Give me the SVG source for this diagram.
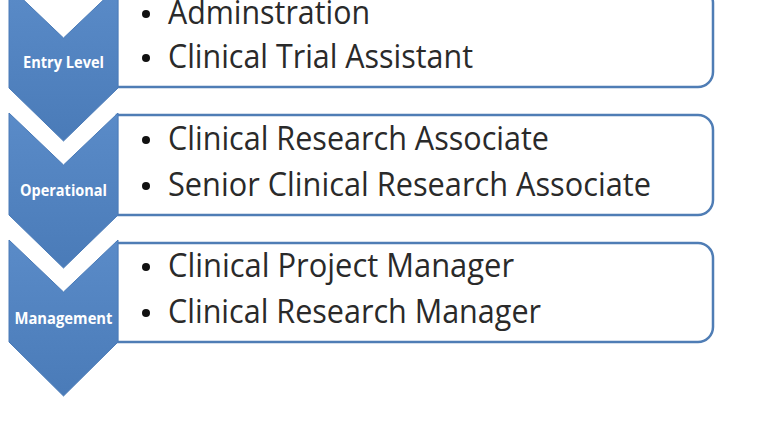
<svg xmlns="http://www.w3.org/2000/svg" width="780" height="440" viewBox="0 0 780 440">
<defs>
<linearGradient id="chev" x1="0" y1="0" x2="0" y2="1">
<stop offset="0" stop-color="#5a8bc8"/>
<stop offset="1" stop-color="#4a7bb8"/>
</linearGradient>
<style>
.box{fill:#ffffff;stroke:#4f7db5;stroke-width:2.5}
.chev{fill:url(#chev);stroke:#4a7bb8;stroke-width:1;stroke-linejoin:round}
.lbl{font-family:"Open Sans","Noto Sans",sans-serif;font-weight:bold;font-size:16px;fill:#ffffff;text-anchor:middle}
.item{font-family:"Open Sans","Noto Sans",sans-serif;font-size:32px;fill:#2a2a2a}
.dot{fill:#111111}
</style>
</defs>
<rect width="780" height="440" fill="#ffffff"/>
<g id="connectors"></g>
<g id="entry">
<path class="box" d="M117,-12 H698 A15,15 0 0 1 713,3 V72 A15,15 0 0 1 698,87 H117 Z"/>
<path class="chev" d="M9,-14 L63.5,38 L118,-14 L118,88 L63.5,141 L9,88 Z"/>
<text class="lbl" x="63.5" y="68" textLength="81" lengthAdjust="spacingAndGlyphs">Entry Level</text>
<circle class="dot" cx="146" cy="14" r="4"/>
<text class="item" x="168" y="24" textLength="202" lengthAdjust="spacingAndGlyphs">Adminstration</text>
<circle class="dot" cx="146" cy="58" r="4"/>
<text class="item" x="168" y="68" textLength="305" lengthAdjust="spacingAndGlyphs">Clinical Trial Assistant</text>
</g>
<g id="operational">
<path class="box" d="M117,115 H698 A15,15 0 0 1 713,130 V200 A15,15 0 0 1 698,215 H117 Z"/>
<path class="chev" d="M9,113 L63.5,165 L118,113 L118,215 L63.5,268 L9,215 Z"/>
<text class="lbl" x="63.5" y="196" textLength="87" lengthAdjust="spacingAndGlyphs">Operational</text>
<circle class="dot" cx="146" cy="140" r="4"/>
<text class="item" x="168" y="150" textLength="381" lengthAdjust="spacingAndGlyphs">Clinical Research Associate</text>
<circle class="dot" cx="146" cy="186" r="4"/>
<text class="item" x="168" y="196" textLength="483" lengthAdjust="spacingAndGlyphs">Senior Clinical Research Associate</text>
</g>
<g id="management">
<path class="box" d="M117,243 H698 A15,15 0 0 1 713,258 V327 A15,15 0 0 1 698,342 H117 Z"/>
<path class="chev" d="M9,240 L63.5,292 L118,240 L118,342 L63.5,396 L9,342 Z"/>
<text class="lbl" x="63.5" y="324" textLength="98" lengthAdjust="spacingAndGlyphs">Management</text>
<circle class="dot" cx="146" cy="267" r="4"/>
<text class="item" x="168" y="277" textLength="346" lengthAdjust="spacingAndGlyphs">Clinical Project Manager</text>
<circle class="dot" cx="146" cy="313" r="4"/>
<text class="item" x="168" y="323" textLength="373" lengthAdjust="spacingAndGlyphs">Clinical Research Manager</text>
</g>
</svg>
